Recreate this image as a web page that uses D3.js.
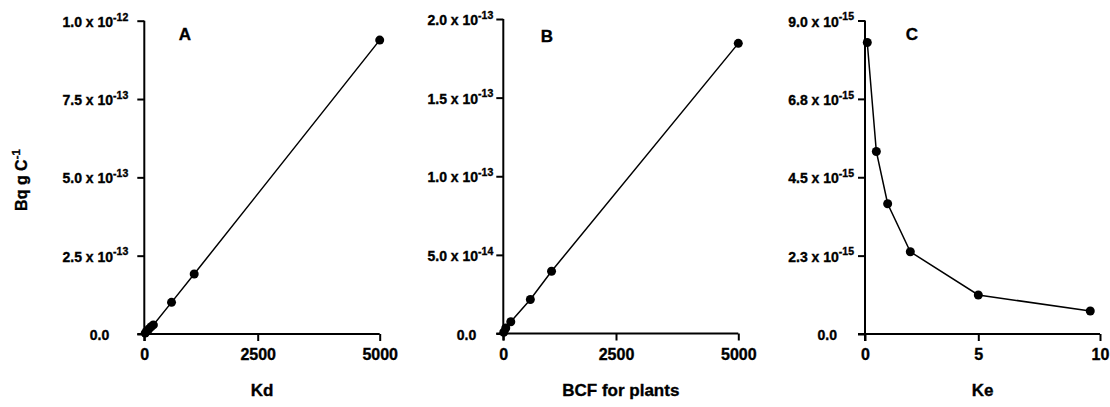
<!DOCTYPE html>
<html><head><meta charset="utf-8">
<script src="https://cdn.jsdelivr.net/npm/d3@7"></script>
<style>
html,body{margin:0;padding:0;background:#fff;}
svg{display:block;font-family:"Liberation Sans",Arial,sans-serif;font-weight:bold;}
svg text{stroke:#000;stroke-width:0.35px;}
</style></head>
<body>
<svg id="chart" width="1110" height="407"></svg>
<script>
// Panel A: Kd
const kdX = [20, 50, 100, 150, 200, 600, 1100, 5000];
const kdY = [0.003e-12, 0.008e-12, 0.016e-12, 0.023e-12, 0.029e-12, 0.101e-12, 0.1915e-12, 0.938e-12];
const aXTicks = [0, 2500, 5000];
const aYTicks = [0, 2.5e-13, 5e-13, 7.5e-13, 1e-12];
const aYBase = ["0.0", "2.5 x 10", "5.0 x 10", "7.5 x 10", "1.0 x 10"];
const aYExp = ["", "-13", "-13", "-13", "-12"];

// Panel B: BCF for plants
const bcfX = [10, 55, 166, 600, 1070, 5000];
const bcfY = [0.008e-13, 0.035e-13, 0.075e-13, 0.216e-13, 0.396e-13, 1.845e-13];
const bXTicks = [0, 2500, 5000];
const bYTicks = [0, 5e-14, 1e-13, 1.5e-13, 2e-13];
const bYBase = ["0.0", "5.0 x 10", "1.0 x 10", "1.5 x 10", "2.0 x 10"];
const bYExp = ["", "-14", "-13", "-13", "-13"];

// Panel C: Ke
const keX = [0.1, 0.5, 1, 2, 5, 9.6];
const keY = [8.37e-15, 5.24e-15, 3.74e-15, 2.36e-15, 1.12e-15, 0.66e-15];
const cXTicks = [0, 5, 10];
const cYTicks = [0, 2.25e-15, 4.5e-15, 6.75e-15, 9e-15];
const cYBase = ["0.0", "2.3 x 10", "4.5 x 10", "6.8 x 10", "9.0 x 10"];
const cYExp = ["", "-15", "-15", "-15", "-15"];

const panels = [
  {x: kdX, y: kdY, xt: aXTicks, yt: aYTicks, yb: aYBase, ye: aYExp, letter: "A", title: "Kd",
   xr: [144.3, 257.7, 379.7], yr: [334, 20.7], supOff: 16, zeroOff: 35, letterPos: [185, 40]},
  {x: bcfX, y: bcfY, xt: bXTicks, yt: bYTicks, yb: bYBase, ye: bYExp, letter: "B", title: "BCF for plants",
   xr: [503.3, 616, 738.3], yr: [333.5, 19], supOff: 10, zeroOff: 27, letterPos: [547, 42]},
  {x: keX, y: keY, xt: cXTicks, yt: cYTicks, yb: cYBase, ye: cYExp, letter: "C", title: "Ke",
   xr: [865, 978.3, 1100], yr: [334, 20.5], supOff: 11, zeroOff: 28, letterPos: [912, 40]}
];

const svg = d3.select("#chart");

panels.forEach(p => {
  const xMax = p.xt[p.xt.length - 1];
  const x = d3.scaleLinear().domain([p.xt[0], p.xt[1], xMax]).range(p.xr);
  const y = d3.scaleLinear().domain([0, p.yt[p.yt.length - 1]]).range(p.yr);
  const x0 = p.xr[0], y0 = p.yr[0];

  // X axis
  const gx = svg.append("g").attr("transform", `translate(0,${y0})`)
    .call(d3.axisBottom(x).tickValues(p.xt).tickSize(7).tickSizeOuter(0).tickPadding(8)
      .tickFormat(d3.format("d")));
  gx.select(".domain").attr("stroke", "#000").attr("stroke-width", 2).attr("d", `M${x0 - 7},0H${p.xr[2]}`);
  gx.selectAll(".tick line").attr("stroke", "#000").attr("stroke-width", 2);
  gx.selectAll(".tick text").attr("font-size", 16).attr("font-family", "Liberation Sans, Arial, sans-serif")
    .attr("font-weight", "bold").attr("fill", "#000");

  // Y axis
  const gy = svg.append("g").attr("transform", `translate(${x0},0)`)
    .call(d3.axisLeft(y).tickValues(p.yt).tickSize(7).tickSizeOuter(0).tickFormat(() => ""));
  gy.select(".domain").attr("stroke", "#000").attr("stroke-width", 2).attr("d", `M0,${y0 + 7}V${p.yr[1]}`);
  gy.selectAll(".tick line").attr("stroke", "#000").attr("stroke-width", 2);
  gy.selectAll(".tick text").each(function(d, i) {
    const t = d3.select(this)
      .attr("font-size", 14).attr("font-family", "Liberation Sans, Arial, sans-serif")
      .attr("font-weight", "bold").attr("fill", "#000")
      .attr("text-anchor", "end")
      .attr("x", -(p.ye[i] ? p.supOff : p.zeroOff))
      .attr("dy", "0.40em");
    t.text(null);
    t.append("tspan").text(p.yb[i]);
    if (p.ye[i]) {
      t.append("tspan").attr("font-size", 10.5).attr("dy", "-0.6em").text(p.ye[i]);
    }
  });

  // Line
  const pts = p.x.map((v, i) => [v, p.y[i]]);
  svg.append("path").datum(pts)
    .attr("fill", "none").attr("stroke", "#000").attr("stroke-width", 1.5)
    .attr("d", d3.line().x(d => x(d[0])).y(d => y(d[1])));
  svg.selectAll(null).data(pts).enter().append("circle")
    .attr("cx", d => x(d[0])).attr("cy", d => y(d[1])).attr("r", 4.5).attr("fill", "#000");

  // Panel letter
  svg.append("text").attr("x", p.letterPos[0]).attr("y", p.letterPos[1])
    .attr("text-anchor", "middle").attr("font-size", 17).text(p.letter);

  // X title
  svg.append("text").attr("x", (p.xr[0] + p.xr[2]) / 2).attr("y", 396)
    .attr("text-anchor", "middle").attr("font-size", 17).text(p.title);
});

// Y axis label
const yl = svg.append("text").attr("transform", "translate(27,180) rotate(-90)")
  .attr("text-anchor", "middle").attr("font-size", 16);
yl.append("tspan").text("Bq g C");
yl.append("tspan").attr("font-size", 11.5).attr("dy", "-0.6em").text("-1");
</script>
</body></html>
